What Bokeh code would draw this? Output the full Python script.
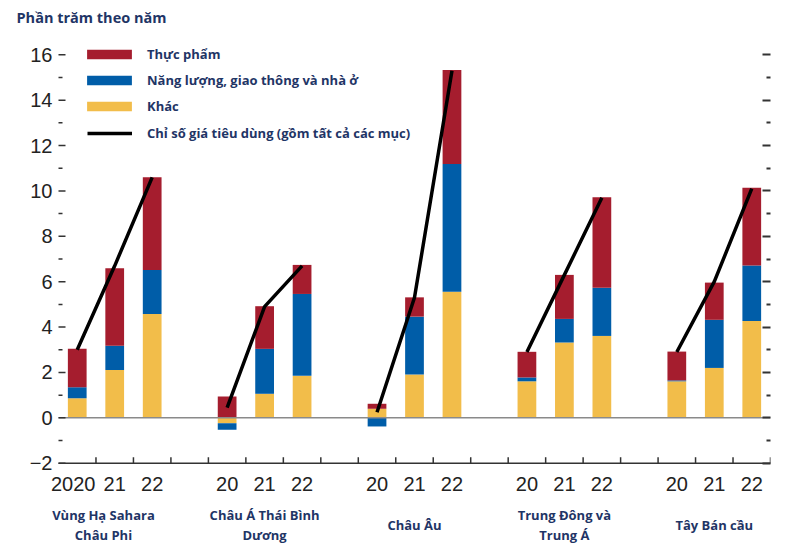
from bokeh.plotting import figure
from bokeh.models import (FixedTicker, LinearAxis, Range1d, Legend, LegendItem,
                          ColumnDataSource, Title)
from bokeh.core.properties import value
from bokeh.embed import file_html
from bokeh.resources import INLINE
import numpy as np

# ---------------- data ----------------
regions = ["Vùng Hạ Sahara\nChâu Phi", "Châu Á Thái Bình\nDương", "Châu Âu",
           "Trung Đông và\nTrung Á", "Tây Bán cầu"]
year_labels = ["20", "21", "22"]
first_year_label = "2020"

food = [1.69, 3.41, 4.08, 0.94, 1.88, 1.28, 0.22, 0.85, 4.14, 1.13, 1.94, 3.99, 1.27, 1.64, 3.43]
energy = [0.49, 1.07, 1.94, -0.29, 1.98, 3.61, -0.38, 2.55, 5.63, 0.17, 1.04, 2.12, 0.04, 2.12, 2.44]
other = [0.86, 2.11, 4.58, -0.24, 1.06, 1.85, 0.40, 1.91, 5.56, 1.61, 3.32, 3.61, 1.61, 2.20, 4.27]
cpi = [3.0, 6.7, 10.6, 0.45, 4.9, 6.7, 0.25, 5.3, 15.3, 2.9, 6.3, 9.7, 2.9, 6.0, 10.1]

series_names = ["Thực phẩm", "Năng lượng, giao thông và nhà ở", "Khác",
                "Chỉ số giá tiêu dùng (gồm tất cả các mục)"]
title_text = "Phần trăm theo năm"
y_ticks = [-2, 0, 2, 4, 6, 8, 10, 12, 14, 16]

# ---------------- styles ----------------
RED = "#A51D2E"
BLUE = "#005DA8"
YELLOW = "#F2BD4A"
NAVY = "#1F3566"
TXT = "#222222"
AX = "#333333"
LABEL_FONT = "Open Sans"
NUM_FONT = "Liberation Sans"

W, H = 784, 546
TOP, LEFT, RIGHT = 35, 44, 14
AXIS_LEFT = 58          # where the drawn axis starts (pixels)
Y0, Y1 = -5.67, 16.85
px_per_unit = (H - TOP) / (Y1 - Y0)

n_groups = len(regions)
n_years = len(year_labels)
gap = 1
xs = np.array([g * (n_years + gap) + i for g in range(n_groups) for i in range(n_years)], dtype=float)

# stacked bottoms / tops (positive and negative stacks)
stack_order = [("other", other, YELLOW), ("energy", energy, BLUE), ("food", food, RED)]
pos = np.zeros(len(xs))
neg = np.zeros(len(xs))
data = {"x": xs}
for key, vals, _ in stack_order:
    v = np.array(vals, dtype=float)
    bottom = np.where(v >= 0, pos, neg)
    top = bottom + v
    pos = np.where(v >= 0, top, pos)
    neg = np.where(v < 0, top, neg)
    data[key + "_b"] = bottom
    data[key + "_t"] = top
src = ColumnDataSource(data)

x_axis_start = -0.5
x_end = n_groups * (n_years + gap) - gap - 0.5
slot_px = (W - RIGHT - AXIS_LEFT) / (x_end - x_axis_start)
x_start = x_axis_start - (AXIS_LEFT - LEFT) / slot_px

p = figure(width=W, height=H,
           x_range=Range1d(x_start, x_end),
           y_range=Range1d(Y0, Y1),
           output_backend="svg", toolbar_location=None,
           min_border_left=LEFT, min_border_right=RIGHT, min_border_top=TOP, min_border_bottom=0)
p.outline_line_color = None
p.grid.visible = False
p.background_fill_color = "white"
p.xaxis.visible = False

renderers = {}
for key, vals, col in stack_order:
    renderers[key] = p.vbar(x="x", bottom=key + "_b", top=key + "_t", width=0.5,
                            source=src, fill_color=col, line_color=None)

# zero line
p.segment(x0=[x_axis_start], y0=[0], x1=[x_end], y1=[0], line_color="#8a8a8a", line_width=1.5)

line_xs = [list(xs[g * n_years:(g + 1) * n_years]) for g in range(n_groups)]
line_ys = [cpi[g * n_years:(g + 1) * n_years] for g in range(n_groups)]
r_line = p.multi_line(xs=line_xs, ys=line_ys, line_color="black", line_width=3.5)

# ---- bottom axis (drawn at y = -2) ----
y_base = y_ticks[0]
p.segment(x0=[x_axis_start], y0=[y_base], x1=[x_end], y1=[y_base], line_color=AX, line_width=1.5)
boundaries = [b - 0.5 for b in range(1, int(x_end + 0.5) + 1)]
tick_len = 6 / px_per_unit
p.segment(x0=boundaries, y0=[y_base] * len(boundaries), x1=boundaries,
          y1=[y_base + tick_len] * len(boundaries), line_color=AX, line_width=1.5)
xl = [year_labels[k % n_years] for k in range(len(xs))]
xl[0] = first_year_label
xoff = [0] * len(xs)
xoff[0] = -4
lab_src = ColumnDataSource(dict(x=list(xs), y=[y_base] * len(xs), text=xl, xo=xoff))
p.text(x="x", y="y", text="text", x_offset="xo", source=lab_src, text_align="center",
       text_baseline="middle", y_offset=21, text_font=value(NUM_FONT),
       text_font_size="20px", text_color=TXT)

group_x = [0.7, 5, 9, 13, 17]
p.text(x=group_x, y=[y_base] * n_groups, text=regions, text_align="center",
       text_baseline="middle", y_offset=62, text_font=value(LABEL_FONT),
       text_font_style="bold", text_font_size="13px", text_color=NAVY, text_line_height=1.1)

# ---- left ticks (drawn from where the axis starts) ----
minor_y = [v + 1 for v in y_ticks[:-1]]
major_len = 7 / slot_px
minor_len = 4 / slot_px
p.segment(x0=[x_axis_start] * len(y_ticks), y0=y_ticks, x1=[x_axis_start + major_len] * len(y_ticks),
          y1=y_ticks, line_color=AX, line_width=1.5)
p.segment(x0=[x_axis_start] * len(minor_y), y0=minor_y, x1=[x_axis_start + minor_len] * len(minor_y),
          y1=minor_y, line_color=AX, line_width=1.5)

# ---- y axes ----
ya = p.yaxis[0]
ya.ticker = FixedTicker(ticks=y_ticks)
ya.major_label_overrides = {-2: "\u22122"}
ya.axis_line_color = None
ya.major_tick_line_color = None
ya.minor_tick_line_color = None
ya.major_tick_in = 0
ya.major_tick_out = 0
ya.major_label_text_font = NUM_FONT
ya.major_label_text_font_size = "20px"
ya.major_label_text_color = TXT
ya.major_label_standoff = -(AXIS_LEFT - LEFT) + 6

ra = LinearAxis(ticker=FixedTicker(ticks=y_ticks, minor_ticks=minor_y))
ra.axis_line_color = None
ra.major_tick_in = 8
ra.major_tick_out = 0
ra.minor_tick_in = 4
ra.minor_tick_out = 0
ra.major_tick_line_color = AX
ra.minor_tick_line_color = AX
ra.major_tick_line_width = 2
ra.minor_tick_line_width = 2
ra.major_label_overrides = {t: "" for t in y_ticks}
ra.major_label_standoff = 0
p.add_layout(ra, "right")

# ---- title ----
t = Title(text=title_text, align="left", offset=16 - LEFT, text_font=LABEL_FONT,
          text_font_style="bold", text_font_size="14.5px", text_color=NAVY,
          vertical_align="top", standoff=14)
p.add_layout(t, "above")

# ---- legends ----
leg_style = dict(padding=0, border_line_alpha=0, background_fill_alpha=0,
                 label_text_font=LABEL_FONT, label_text_font_style="bold",
                 label_text_font_size="13px", label_text_color=NAVY)
legend_bars = Legend(items=[
    LegendItem(label=series_names[0], renderers=[renderers["food"]]),
    LegendItem(label=series_names[1], renderers=[renderers["energy"]]),
    LegendItem(label=series_names[2], renderers=[renderers["other"]]),
], location=(23 + AXIS_LEFT - LEFT, 429), spacing=4, glyph_width=56, glyph_height=12,
    label_height=22, label_standoff=10, **leg_style)
legend_line = Legend(items=[
    LegendItem(label=series_names[3], renderers=[r_line]),
], location=(29 + AXIS_LEFT - LEFT, 402), spacing=4, glyph_width=45, glyph_height=10,
    label_height=22, label_standoff=15, **leg_style)
p.add_layout(legend_bars, "center")
p.add_layout(legend_line, "center")

open("out.html", "w").write(file_html(p, INLINE))
